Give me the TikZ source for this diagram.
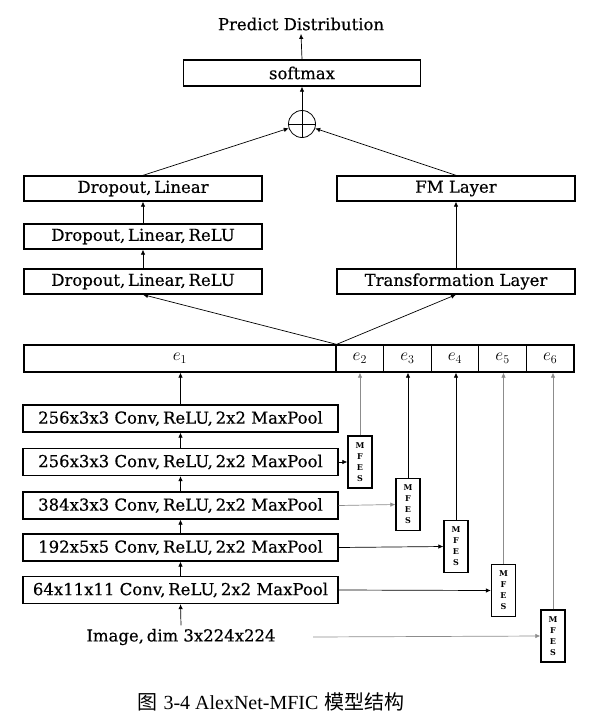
\documentclass[tikz,border=0pt]{standalone}
\usepackage{fontspec}
\setmainfont{DejaVu Serif}
\newfontfamily\lblfont{DejaVu Serif}[FakeBold=0.5]
\newfontfamily\capfont{Liberation Serif}
\newfontfamily\cjk{Noto Sans CJK SC}
\usetikzlibrary{arrows.meta}
\tikzset{
  lbl/.style={font=\lblfont\fontsize{16.5}{18}\selectfont},
  box/.style={draw, line width=1.3pt, inner sep=0pt, lbl},
  ebox/.style={draw, line width=1.3pt, inner sep=0pt, minimum height=27pt, font=\fontsize{17}{19}\selectfont},
  mfes/.style={draw, line width=1.3pt, inner sep=0pt, minimum width=24pt, minimum height=52pt, align=center, font=\bfseries\fontsize{8}{11}\selectfont},
  arr/.style={line width=0.7pt, -{Latex[length=5pt,width=4.5pt]}},
  garr/.style={arr, draw=black!45},
}
\begin{document}
\begin{tikzpicture}[x=1pt,y=-1pt]
\useasboundingbox (0,0) rectangle (589,720);
% top
\node[lbl] (pred) at (301,24) {Predict Distribution};
\node[box, minimum width=237pt, minimum height=26pt] (soft) at (302,73) {softmax};
\node[draw, circle, line width=0.8pt, minimum size=27pt, inner sep=0pt] (plus) at (302,124) {};
\draw[line width=0.8pt] (plus.north) -- (plus.south) (plus.west) -- (plus.east);
% left tower
\node[box, minimum width=238pt, minimum height=25pt] (d1) at (143,188.5) {Dropout,\,Linear};
\node[box, minimum width=238pt, minimum height=25pt] (d2) at (143,236.5) {Dropout,\,Linear,\,ReLU};
\node[box, minimum width=238pt, minimum height=25pt] (d3) at (143,281.5) {Dropout,\,Linear,\,ReLU};
% right tower
\node[box, minimum width=238pt, minimum height=25pt] (fm) at (456,188.5) {FM Layer};
\node[box, minimum width=238pt, minimum height=25pt] (tr) at (456,281.5) {Transformation Layer};
% embedding bar
\node[ebox, minimum width=312pt] (e1) at (180,358.5) {$e_1$};
\node[ebox, minimum width=47.6pt] (e2) at (359.8,358.5) {$e_2$};
\node[ebox, minimum width=47.6pt] (e3) at (407.4,358.5) {$e_3$};
\node[ebox, minimum width=47.6pt] (e4) at (455.0,358.5) {$e_4$};
\node[ebox, minimum width=47.6pt] (e5) at (502.6,358.5) {$e_5$};
\node[ebox, minimum width=47.6pt] (e6) at (550.2,358.5) {$e_6$};
% conv stack
\node[box, minimum width=315pt, minimum height=27pt] (c5) at (180.5,418.5) {256x3x3 Conv,\,ReLU,\,2x2 MaxPool};
\node[box, minimum width=315pt, minimum height=27pt] (c4) at (180.5,462) {256x3x3 Conv,\,ReLU,\,2x2 MaxPool};
\node[box, minimum width=315pt, minimum height=27pt] (c3) at (180.5,505.5) {384x3x3 Conv,\,ReLU,\,2x2 MaxPool};
\node[box, minimum width=315pt, minimum height=27pt] (c2) at (180.5,547.5) {192x5x5 Conv,\,ReLU,\,2x2 MaxPool};
\node[box, minimum width=315pt, minimum height=27pt] (c1) at (180.5,590) {64x11x11 Conv,\,ReLU,\,2x2 MaxPool};
\node[lbl] (img) at (181,637) {Image,\,dim 3x224x224};
\coordinate (imgout) at (313,637);
% MFES boxes
\node[mfes] (m1) at (360,462) {M\\F\\E\\S};
\node[mfes] (m2) at (408,504.5) {M\\F\\E\\S};
\node[mfes] (m3) at (456,546.5) {M\\F\\E\\S};
\node[mfes] (m4) at (503.5,590.5) {M\\F\\E\\S};
\node[mfes] (m5) at (553,636) {M\\F\\E\\S};
% connectors top
\draw[arr] (soft.north) -- (pred.south);
\draw[arr] (plus.north) -- (soft.south);
\draw[arr] (d1.north) -- (plus);
\draw[arr] (fm.north) -- (plus);
\draw[arr] (d2.north) -- (d1.south);
\draw[arr] (d3.north) -- (d2.south);
\draw[arr] (tr.north) -- (fm.south);
\draw[arr] (e1.north east) -- (d3.south);
\draw[arr] (e1.north east) -- (tr.south);
% conv stack
\draw[arr] (img.north) -- (c1.south);
\draw[arr] (c1.north) -- (c2.south);
\draw[arr] (c2.north) -- (c3.south);
\draw[arr] (c3.north) -- (c4.south);
\draw[arr] (c4.north) -- (c5.south);
\draw[arr] (c5.north) -- (c5.north |- e1.south);
% to MFES
\draw[arr] (c4.east) -- (m1.west);
\draw[garr] (c3.east) -- (m2.west);
\draw[arr] (c2.east) -- (m3.west);
\draw[arr] (c1.east) -- (m4.west);
\draw[garr] (imgout) -- (m5.west);
% MFES up to e
\draw[garr] (m1.north) -- (m1.north |- e2.south);
\draw[arr] (m2.north) -- (m2.north |- e3.south);
\draw[arr] (m3.north) -- (m3.north |- e4.south);
\draw[garr] (m4.north) -- (m4.north |- e5.south);
\draw[garr] (m5.north) -- (m5.north |- e6.south);
% caption
\node[font=\fontsize{20}{22}\selectfont] (cap) at (271,702) {{\cjk 图} {\capfont 3-4 AlexNet-MFIC} {\cjk 模型结构}};
\end{tikzpicture}
\end{document}
